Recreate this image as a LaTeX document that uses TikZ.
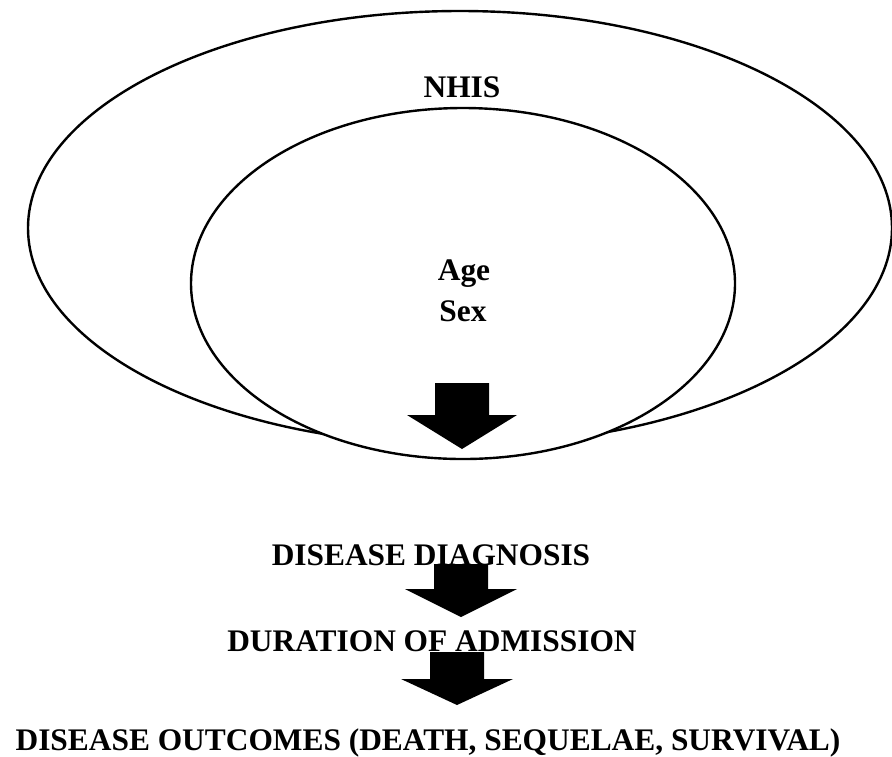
\documentclass[tikz,border=0pt]{standalone}
\usepackage{fontspec}
\setmainfont{Liberation Serif}
\usepackage{tikz}

\begin{document}
\begin{tikzpicture}[x=0.5pt, y=-0.5pt,
    label text/.style={font=\fontsize{15.7}{18}\selectfont\bfseries, inner sep=0pt, anchor=base},
    block arrow/.style={fill=black}]
    \useasboundingbox (0,0) rectangle (892,756);

    \coordinate (O1) at (460,228);
    \coordinate (O2) at (463,283.5);
    \coordinate (T1) at (462,449);
    \coordinate (T2) at (461,617);
    \coordinate (T3) at (457,705);

    \draw[line width=1.2pt] (O1) ellipse [x radius=432, y radius=217];

    \draw[line width=1.2pt, fill=white] (O2) ellipse [x radius=272, y radius=175.5];

    \fill[block arrow] (T1) -- ++(55,-34) -- ++(-28,0) -- ++(0,-32) -- ++(-54,0) -- ++(0,32) -- ++(-28,0) -- cycle;

    \node[label text] (nhis) at (462,97) {NHIS};
    \node[label text] (age) at (464,280) {Age};
    \node[label text] (sex) at (463,321) {Sex};

    \node[label text] (diag) at (431,565) {DISEASE DIAGNOSIS};
    \node[label text] (dur) at (432,651) {DURATION OF ADMISSION};
    \node[label text] (out) at (428,750) {DISEASE OUTCOMES (DEATH, SEQUELAE, SURVIVAL)};

    \fill[block arrow] (T2) -- ++(56,-28) -- ++(-29,0) -- ++(0,-25) -- ++(-54,0) -- ++(0,25) -- ++(-29,0) -- cycle;
    \fill[block arrow] (T3) -- ++(56,-26) -- ++(-29,0) -- ++(0,-27) -- ++(-54,0) -- ++(0,27) -- ++(-29,0) -- cycle;
\end{tikzpicture}
\end{document}
